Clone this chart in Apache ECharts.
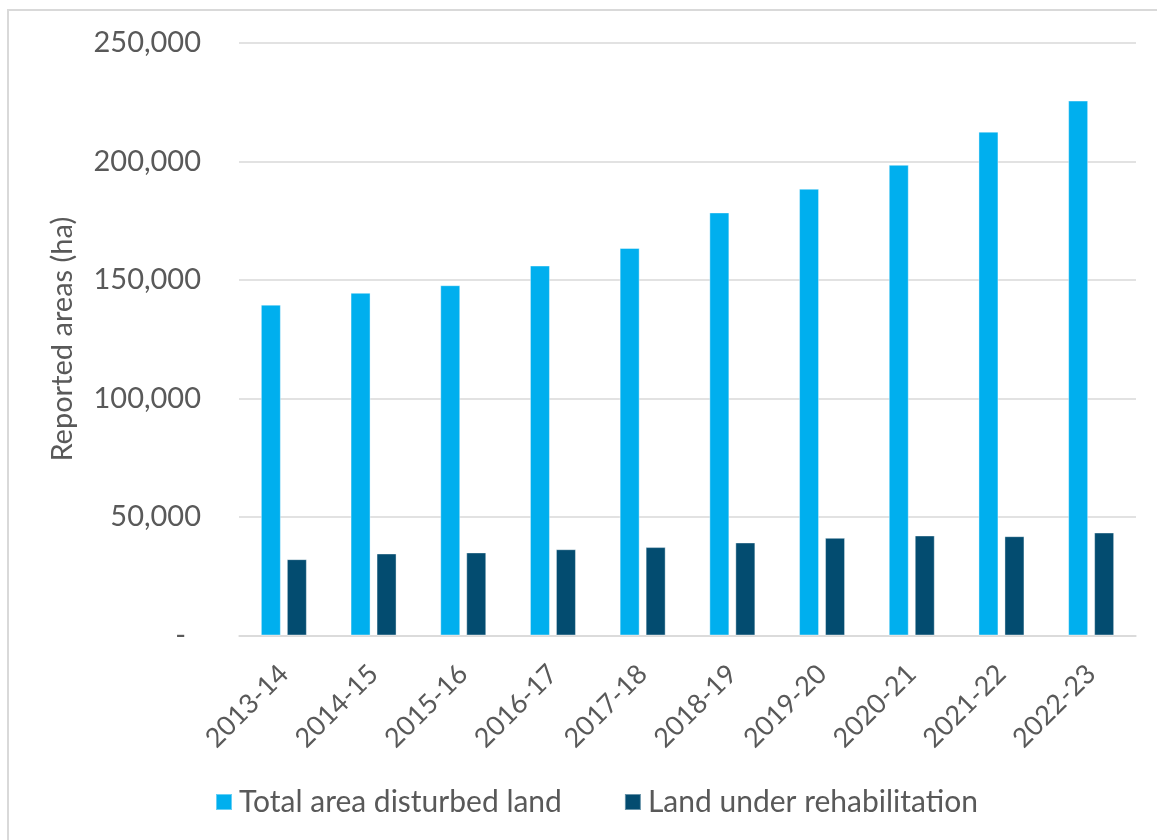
<!DOCTYPE html>
<html>
<head>
<meta charset="utf-8">
<script src="https://cdn.jsdelivr.net/npm/echarts@6/dist/echarts.min.js"></script>
<style>
  html, body { margin: 0; padding: 0; background: #ffffff; }
  #chart { width: 1157px; height: 840px; }
</style>
</head>
<body>
<div id="chart"></div>
<script>
// Financial years shown on the category axis
const years = ['2013-14', '2014-15', '2015-16', '2016-17', '2017-18',
               '2018-19', '2019-20', '2020-21', '2021-22', '2022-23'];

// Reported areas in hectares
const totalDisturbed = [139600, 144600, 147800, 156100, 163500,
                        178500, 188500, 198600, 212600, 225700];
const underRehab = [32200, 34600, 35050, 36400, 37300,
                    39250, 41200, 42200, 41900, 43450];

const seriesNames = ['Total area disturbed land', 'Land under rehabilitation'];
const yAxisTitle = 'Reported areas (ha)';

const FONT = 'Lato, "Open Sans", sans-serif';
const TEXT = '#595959';
const GRID = '#D9D9D9';

const chart = echarts.init(document.getElementById('chart'), null, { renderer: 'canvas' });

chart.setOption({
  backgroundColor: '#ffffff',
  animation: false,
  textStyle: { fontFamily: FONT },
  graphic: [{
    type: 'rect',
    shape: { x: 8, y: 10, width: 1160, height: 840 },
    style: { fill: 'none', stroke: GRID, lineWidth: 2 },
    silent: true
  }],
  grid: { left: 239, right: 21, top: 43, bottom: 204.5 },
  legend: {
    bottom: 18,
    left: 210,
    itemWidth: 16,
    itemHeight: 16,
    itemGap: 62,
    icon: 'rect',
    textStyle: { fontFamily: FONT, fontSize: 30, color: TEXT, padding: [0, 0, 0, 2] },
    data: seriesNames
  },
  xAxis: {
    type: 'category',
    data: years,
    axisTick: { show: false },
    axisLine: { lineStyle: { color: GRID, width: 1.5 } },
    axisLabel: {
      interval: 0,
      rotate: 45,
      margin: 34,
      fontFamily: FONT,
      fontSize: 27,
      color: TEXT
    }
  },
  yAxis: {
    type: 'value',
    min: 0,
    max: 250000,
    interval: 50000,
    name: yAxisTitle,
    nameLocation: 'middle',
    nameGap: 162,
    nameTextStyle: { fontFamily: FONT, fontSize: 29, color: TEXT },
    axisLine: { show: false },
    axisTick: { show: false },
    splitLine: { lineStyle: { color: GRID, width: 1.5 } },
    axisLabel: {
      margin: 38,
      fontFamily: FONT,
      fontSize: 29,
      color: TEXT,
      formatter: function (v) {
        return v === 0 ? '{d|-}' : v.toLocaleString('en-US');
      },
      rich: {
        d: { fontFamily: FONT, fontSize: 29, color: TEXT, padding: [0, 15, 0, 0] }
      }
    }
  },
  series: [
    {
      name: seriesNames[0],
      type: 'bar',
      data: totalDisturbed,
      barWidth: 20,
      barGap: '30%',
      itemStyle: { color: '#00AFEE', borderColor: 'rgba(255,255,255,0.4)', borderWidth: 1 }
    },
    {
      name: seriesNames[1],
      type: 'bar',
      data: underRehab,
      barWidth: 20,
      itemStyle: { color: '#034C70', borderColor: 'rgba(255,255,255,0.4)', borderWidth: 1 }
    }
  ]
});
</script>
</body>
</html>
